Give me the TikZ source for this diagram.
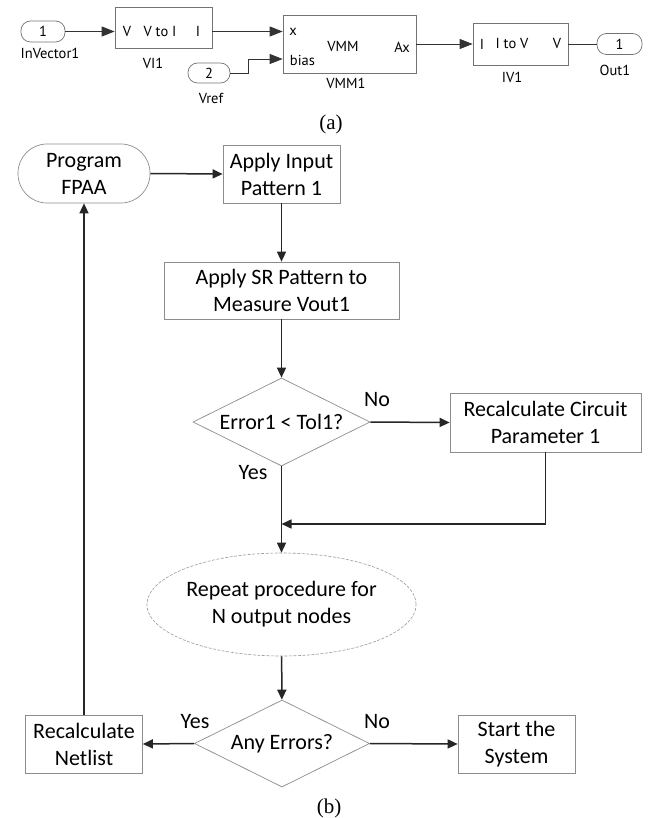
\documentclass[tikz,border=0pt]{standalone}
\usepackage{fontspec}
\setmainfont{Carlito}
\newfontfamily\simfont{PT Sans}
\newfontfamily\capfont{Liberation Serif}
\usetikzlibrary{shapes.geometric,arrows.meta}
\begin{document}
\begin{tikzpicture}[x=1pt,y=-1pt,
  fc/.style={font=\fontsize{22}{27}\selectfont, align=center, inner sep=0pt},
  fbox/.style={fc, draw=black!45, line width=0.7pt, rectangle},
  fdia/.style={fc, draw=black!45, line width=0.7pt, diamond},
  flow/.style={draw=black!85, line width=1.5pt, -{Triangle[length=10pt,width=9pt]}},
  lbl/.style={font=\fontsize{22}{27}\selectfont, inner sep=0pt},
  st/.style={font=\simfont\fontsize{14.5}{16}\selectfont, inner sep=0pt},
  sbox/.style={draw=black!55, line width=0.7pt, rectangle, inner sep=0pt},
  sport/.style={draw=black!55, line width=0.7pt, rectangle, rounded corners=9.5pt, inner sep=0pt, font=\simfont\fontsize{14.5}{16}\selectfont},
  sarrow/.style={draw=black!80, line width=0.9pt, -{Triangle[length=13pt,width=10pt]}},
  sline/.style={draw=black!80, line width=0.9pt},
  captext/.style={font=\capfont\fontsize{21}{24}\selectfont, inner sep=0pt}
]
\useasboundingbox (0,0) rectangle (652,818);

% ---------------- (a) ----------------
\node[sport, minimum width=44pt, minimum height=21pt] (in1) at (43,31.5) {1};
\node[st] (in1l) at (50,53) {InVector1};
\node[sbox, minimum width=97pt, minimum height=41pt] (vi1) at (163.5,27.5) {};
\node[st] (vi1a) at (127,31.5) {V};
\node[st] (vi1b) at (160,31.5) {V to I};
\node[st] (vi1c) at (198,31.5) {I};
\node[st] (vi1l) at (153,63) {VI1};

\node[sport, minimum width=42pt, minimum height=20pt] (vref) at (209,73) {2};
\node[st] (vrefl) at (211,98) {Vref};

\node[sbox, minimum width=133pt, minimum height=58pt] (vmm) at (349.5,44) {};
\node[st] (vmmx) at (293,31.5) {x};
\node[st] (vmmb) at (302.5,60) {bias};
\node[st] (vmmt) at (343,47) {VMM};
\node[st] (vmma) at (402,47) {Ax};
\node[st] (vmml) at (346,83) {VMM1};

\node[sbox, minimum width=95pt, minimum height=42pt] (iv1) at (520.5,44) {};
\node[st] (iv1a) at (482,44) {I};
\node[st] (iv1b) at (512,44) {I to V};
\node[st] (iv1c) at (557,44) {V};
\node[st] (iv1l) at (512,77) {IV1};

\node[sport, minimum width=45pt, minimum height=21pt] (out1) at (619.5,44) {1};
\node[st] (out1l) at (615,70) {Out1};

\coordinate (bend1) at (248,73);
\coordinate (bend2) at (248,59);
\draw[sarrow] (in1.east) -- (vi1.west |- in1.east);
\draw[sarrow] (vi1.east |- in1.east) -- (vmm.west |- in1.east);
\draw[sarrow] (vref.east) -- (bend1) -- (bend2) -- (vmm.west |- bend2);
\draw[sarrow] (vmm.east) -- (iv1.west);
\draw[sline] (iv1.east) -- (out1.west);

\node[captext] (capa) at (331,124) {(a)};

% ---------------- (b) ----------------
\node[fbox, rounded corners=29pt, minimum width=132pt, minimum height=59pt] (fpaa) at (84,173.5) {Program\\FPAA};
\node[fbox, minimum width=117pt, minimum height=58pt] (input) at (281.5,174) {Apply Input\\Pattern 1};
\node[fbox, minimum width=235pt, minimum height=57pt] (sr) at (281.5,290.5) {Apply SR Pattern to\\Measure Vout1};
\node[fdia, minimum width=177pt, minimum height=88pt] (d1) at (281.5,422) {\makebox[0pt]{Error1 < Tol1?}};
\node[fbox, minimum width=191pt, minimum height=59pt] (rc) at (545.5,422.5) {Recalculate Circuit\\Parameter 1};
\node[fc, ellipse, draw=black!40, dashed, dash pattern=on 3pt off 1.5pt, line width=0.6pt, minimum width=235pt, minimum height=103pt] (ell) at (281.5,604.5) {Repeat procedure for\\N output nodes};
\node[fdia, minimum width=175pt, minimum height=87pt] (d2) at (282,743.5) {\makebox[0pt]{Any Errors?}};
\node[fbox, minimum width=117pt, minimum height=58pt] (net) at (84,744) {Recalculate\\Netlist};
\node[fbox, minimum width=117pt, minimum height=58pt] (start) at (516.5,744) {Start the\\System};

\node[lbl] (no1) at (377,400) {No};
\node[lbl] (yes1) at (253,473) {Yes};
\node[lbl] (yes2) at (195,722) {Yes};
\node[lbl] (no2) at (377,722) {No};

\coordinate (m) at (281.5,524);

\draw[flow] (fpaa.east) -- (input.west);
\draw[flow] (input) -- (sr);
\draw[flow] (sr) -- (d1);
\draw[flow] (d1.east) -- (rc.west);
\draw[flow] (rc.south) |- (m);
\draw[flow] (d1.south) -- (ell.north);
\draw[flow] (ell) -- (d2);
\draw[flow] (d2.west) -- (net.east);
\draw[flow] (d2.east) -- (start.west);
\draw[flow] (net.north) -- (fpaa.south);

\node[captext] (capb) at (329,808) {(b)};
\end{tikzpicture}
\end{document}
